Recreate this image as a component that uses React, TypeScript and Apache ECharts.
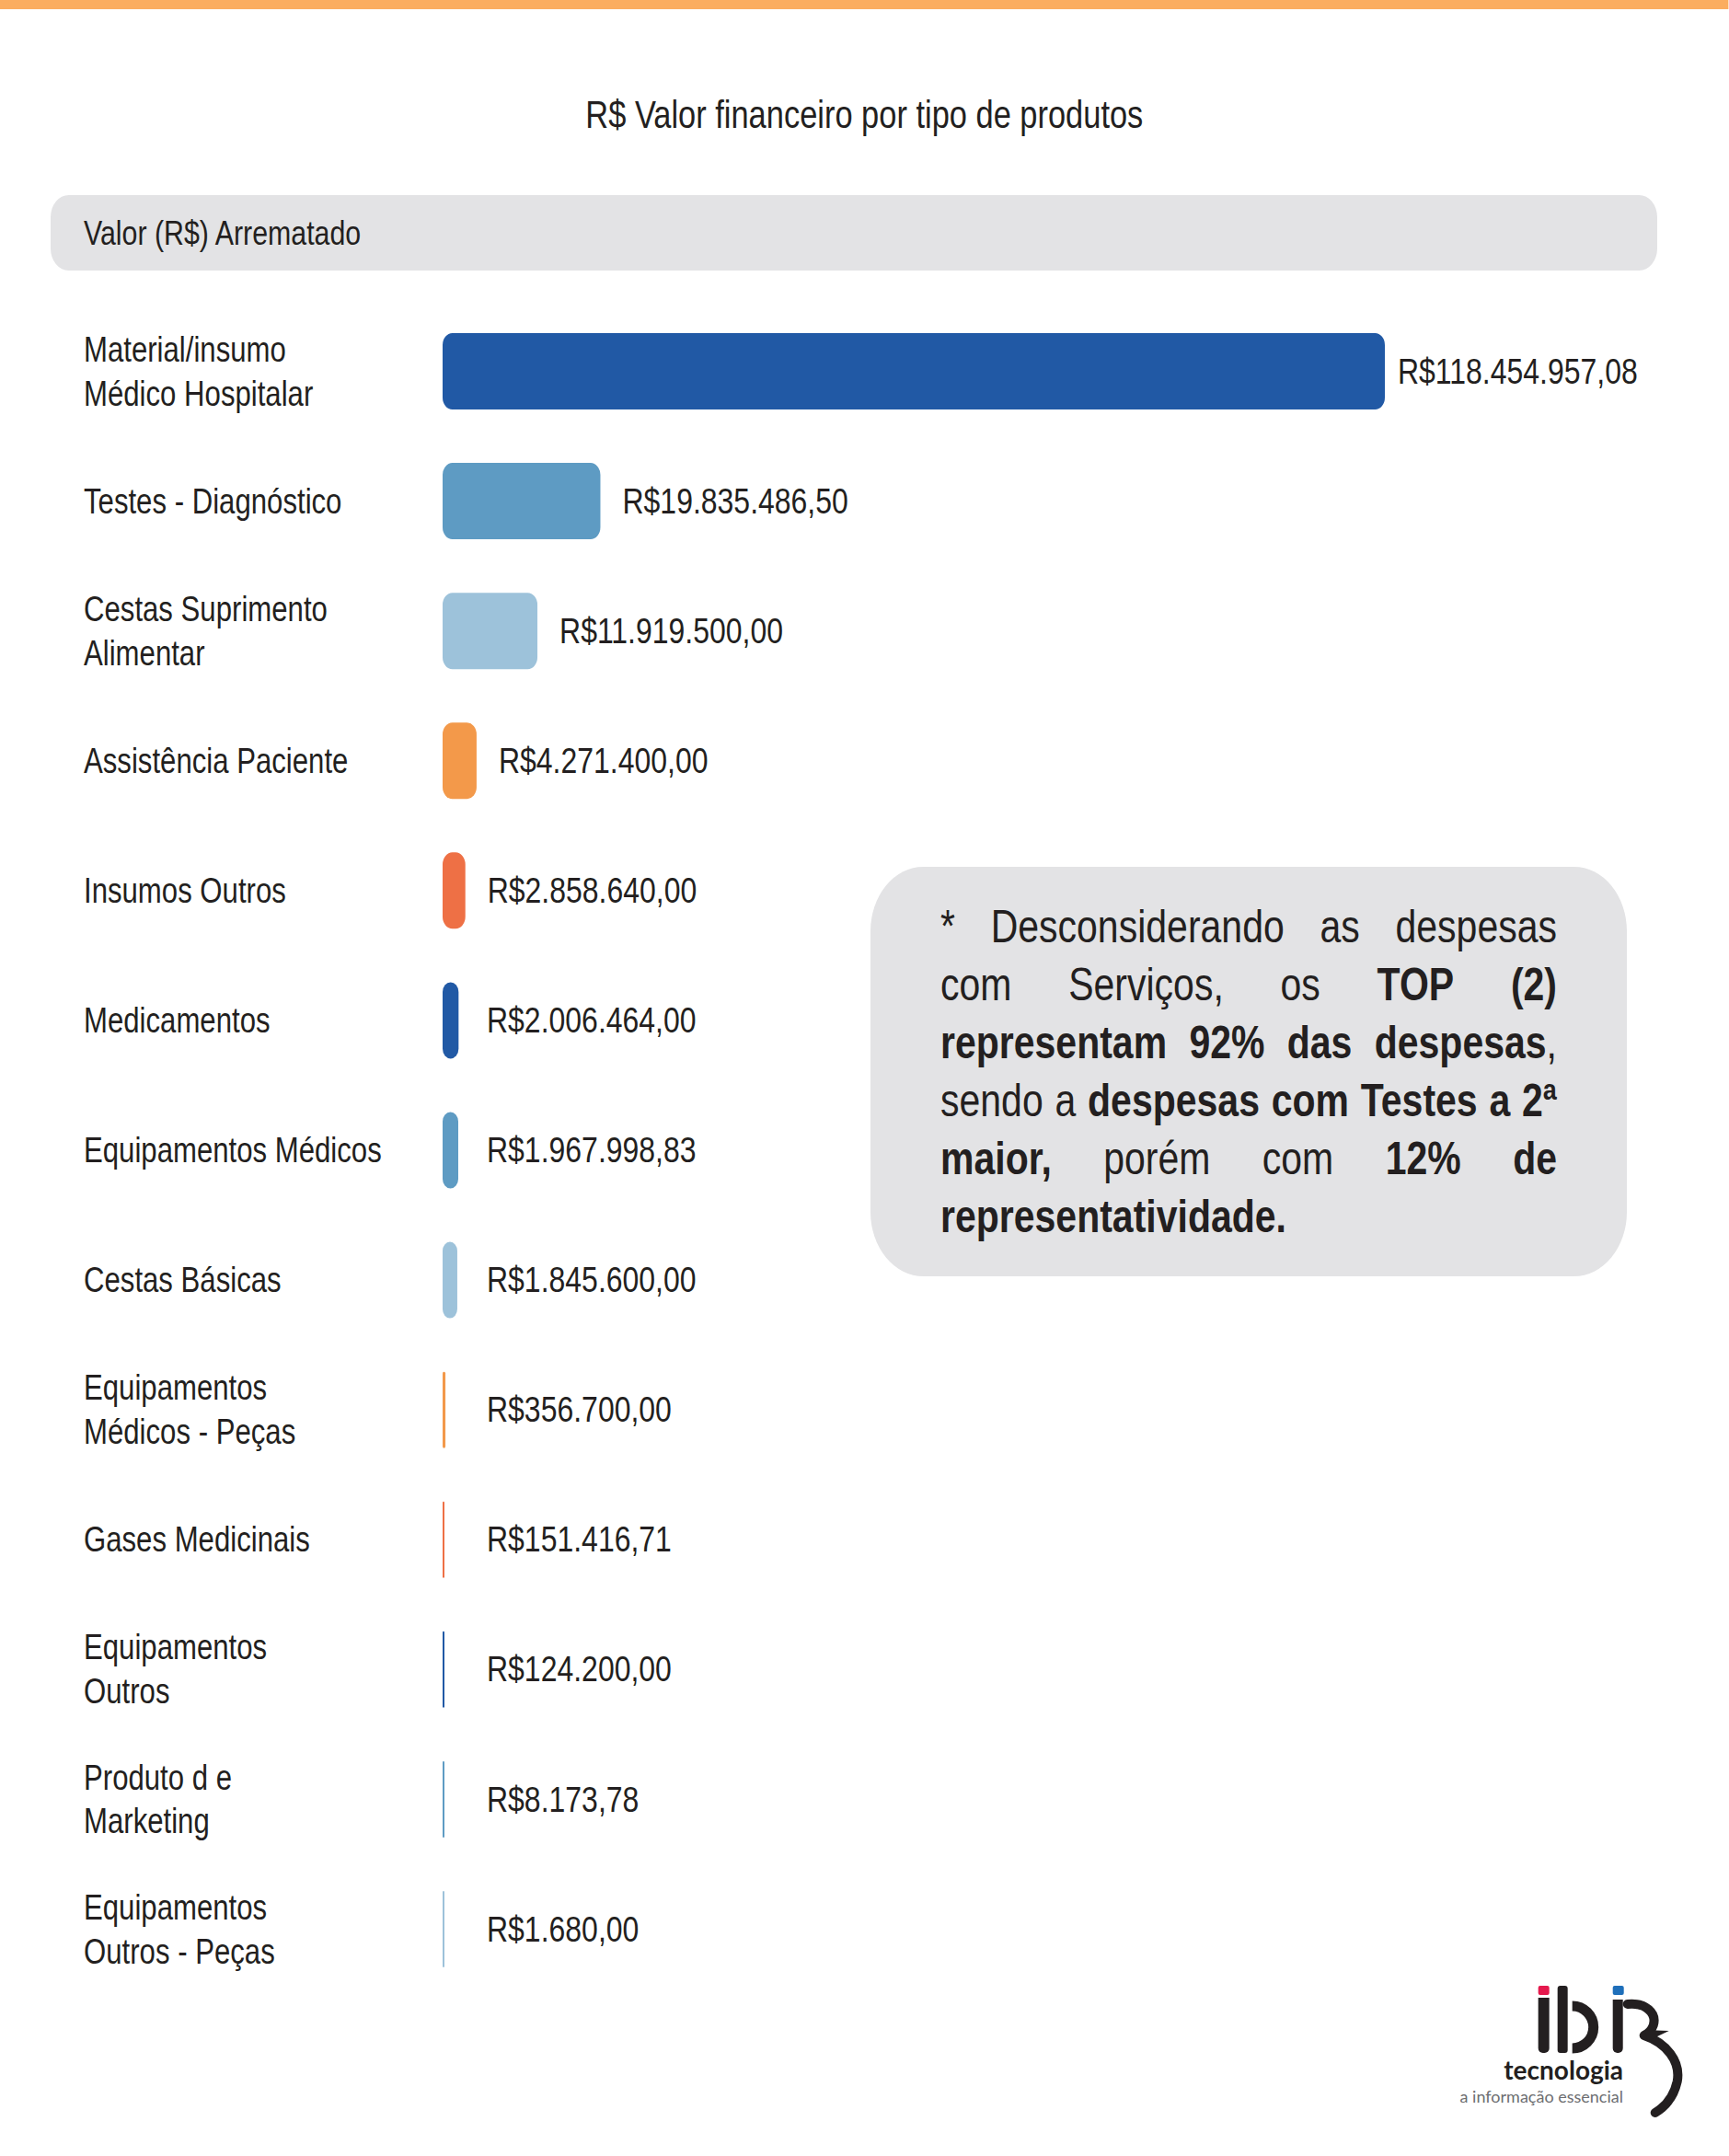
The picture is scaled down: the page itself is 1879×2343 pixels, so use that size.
import React, { useEffect, useRef } from 'react';
import * as echarts from 'echarts';

const chartTitle = 'R$ Valor financeiro por tipo de produtos';
const headerText = 'Valor (R$) Arrematado';

const categories = [
  'Material/insumo\nMédico Hospitalar',
  'Testes - Diagnóstico',
  'Cestas Suprimento\nAlimentar',
  'Assistência Paciente',
  'Insumos Outros',
  'Medicamentos',
  'Equipamentos Médicos',
  'Cestas Básicas',
  'Equipamentos\nMédicos - Peças',
  'Gases Medicinais',
  'Equipamentos\nOutros',
  'Produto d e\nMarketing',
  'Equipamentos\nOutros - Peças',
];

const values = [
  118454957.08, 19835486.5, 11919500.0, 4271400.0, 2858640.0, 2006464.0,
  1967998.83, 1845600.0, 356700.0, 151416.71, 124200.0, 8173.78, 1680.0,
];

const palette = ['#2159A5', '#5E9BC3', '#9DC2DA', '#F3994A', '#EE7045'];

// annotation: lines -> words -> segments [text, bold]
const noteLines: [string, boolean][][][] = [
  [[['*', false]], [['Desconsiderando', false]], [['as', false]], [['despesas', false]]],
  [[['com', false]], [['Serviços,', false]], [['os', false]], [['TOP', true]], [['(2)', true]]],
  [[['representam', true]], [['92%', true]], [['das', true]], [['despesas', true], [',', false]]],
  [[['sendo', false]], [['a', false]], [['despesas', true]], [['com', true]], [['Testes', true]], [['a', true]], [['2ª', true]]],
  [[['maior,', true]], [['porém', false]], [['com', false]], [['12%', true]], [['de', true]]],
  [[['representatividade.', true]]],
];

const logoWord = 'tecnologia';
const logoSlogan = 'a informação essencial';

// The reference uses a condensed sans; emulate it by compressing the whole chart horizontally.
const K = 0.82;
const PAGE_W = 1879;
const PAGE_H = 2343;
const CW = Math.round(PAGE_W / K);
const X = (px: number) => px / K;

const FONT = "'Liberation Sans', Arial, 'DejaVu Sans', sans-serif";
const INK = '#231F20';
const GRAY = '#E3E3E5';

echarts.graphic.registerShape(
  'ibiHook',
  echarts.graphic.extendPath(
    'M1768 2178 C1788 2176 1800 2188 1796 2201 C1794 2207 1790 2210 1786 2212 M1786 2212 C1810 2220 1826 2240 1822 2262 C1818 2280 1808 2290 1798 2296',
    {}
  )
);
echarts.graphic.registerShape(
  'ibiNotch',
  echarts.graphic.extendPath('M1786 2206 L1813 2207 L1790 2218 Z', {})
);

function brl(v: number): string {
  const [i, d] = v.toFixed(2).split('.');
  return 'R$' + i.replace(/\B(?=(\d{3})+(?!\d))/g, '.') + ',' + d;
}

function buildNote(): any[] {
  const canvas = document.createElement('canvas');
  const ctx = canvas.getContext('2d')!;
  const size = 50;
  const left = X(1022);
  const width = X(1692) - X(1022);
  const top = 1007;
  const step = 63;
  const fontOf = (b: boolean) => `${b ? 'bold' : 'normal'} ${size}px ${FONT}`;
  const measure = (t: string, b: boolean) => {
    ctx.font = fontOf(b);
    return ctx.measureText(t).width;
  };
  const els: any[] = [];
  noteLines.forEach((words, li) => {
    const wordW = words.map((w) => w.reduce((s, [t, b]) => s + measure(t, b), 0));
    const total = wordW.reduce((a, b) => a + b, 0);
    const last = li === noteLines.length - 1;
    const gap = last || words.length < 2 ? measure(' ', false) : (width - total) / (words.length - 1);
    let x = left;
    const y = top + li * step;
    words.forEach((w, wi) => {
      let sx = x;
      w.forEach(([t, b]) => {
        els.push({
          type: 'text',
          x: sx,
          y,
          silent: true,
          style: {
            text: t,
            font: fontOf(b),
            fill: INK,
            align: 'left',
            verticalAlign: 'middle',
          },
        });
        sx += measure(t, b);
      });
      x += wordW[wi] + gap;
    });
  });
  return els;
}

export default function App() {
  const ref = useRef<HTMLDivElement>(null);
  useEffect(() => {
    document.body.style.margin = '0';
    const chart = echarts.init(ref.current!, null, { renderer: 'svg' });

    // logo drawn in page pixels; the group undoes the horizontal compression
    const logo = {
      type: 'group',
      silent: true,
      scaleX: 1 / K,
      children: [
        { type: 'rect', shape: { x: 1671, y: 2158, width: 12, height: 10, r: 2 }, style: { fill: '#E5194D' } },
        { type: 'rect', shape: { x: 1671, y: 2171, width: 12, height: 60, r: [0, 0, 5, 5] }, style: { fill: INK } },
        { type: 'rect', shape: { x: 1692, y: 2158, width: 11, height: 73, r: 3 }, style: { fill: INK } },
        {
          type: 'arc',
          shape: { cx: 1708, cy: 2203, r: 23, startAngle: -Math.PI / 2, endAngle: Math.PI / 2, clockwise: true },
          style: { stroke: INK, lineWidth: 11, fill: 'none' },
        },
        { type: 'rect', shape: { x: 1752, y: 2158, width: 12, height: 10, r: 2 }, style: { fill: '#1E6FBA' } },
        { type: 'rect', shape: { x: 1752, y: 2173, width: 11, height: 58, r: [0, 0, 5, 5] }, style: { fill: INK } },
        { type: 'ibiHook', style: { fill: 'none', stroke: INK, lineWidth: 10, lineCap: 'round' } },
        { type: 'ibiNotch', style: { fill: INK } },
        {
          type: 'text',
          x: 1764,
          y: 2249,
          style: { text: logoWord, font: "bold 28px Lato, 'Open Sans', sans-serif", fill: INK, align: 'right', verticalAlign: 'middle' },
        },
        {
          type: 'text',
          x: 1764,
          y: 2278,
          style: { text: logoSlogan, font: "normal 18px Lato, 'Open Sans', sans-serif", fill: '#6D6E71', align: 'right', verticalAlign: 'middle' },
        },
      ],
    };

    const graphics: any[] = [
      { type: 'rect', silent: true, shape: { x: 0, y: 0, width: CW, height: 10 }, style: { fill: '#FBAD60' } },
      { type: 'rect', silent: true, z: -1, shape: { x: X(55), y: 212, width: X(1746), height: 82, r: 24 }, style: { fill: GRAY } },
      {
        type: 'text',
        x: X(91),
        y: 253,
        silent: true,
        style: { text: headerText, font: `normal 37px ${FONT}`, fill: INK, align: 'left', verticalAlign: 'middle' },
      },
      { type: 'rect', silent: true, z: -1, shape: { x: X(946), y: 942, width: X(822), height: 445, r: 70 }, style: { fill: GRAY } },
      ...buildNote(),
      logo,
    ];

    const labelSize = 38;
    const valueSize = 39;
    const gridLeft = X(481);

    const makeData = (dists?: number[]) =>
      values.map((v, i) => ({
        value: v,
        itemStyle: { color: palette[i % palette.length] },
        label: dists ? { distance: dists[i] } : undefined,
      }));

    chart.setOption({
      animation: false,
      backgroundColor: '#FFFFFF',
      title: {
        text: chartTitle,
        left: 'center',
        top: 98,
        textStyle: { fontFamily: FONT, fontSize: 42, fontWeight: 'normal', color: INK },
      },
      grid: { left: gridLeft, right: CW - X(1505), top: 333, bottom: 176, containLabel: false },
      xAxis: {
        type: 'value',
        min: 0,
        max: values[0],
        show: false,
      },
      yAxis: {
        type: 'category',
        data: categories,
        inverse: true,
        axisLine: { show: false },
        axisTick: { show: false },
        splitLine: { show: false },
        axisLabel: {
          align: 'left',
          margin: X(481 - 91),
          fontFamily: FONT,
          fontSize: labelSize,
          lineHeight: 48,
          color: INK,
        },
      },
      graphic: graphics,
      series: [
        {
          type: 'bar',
          data: makeData(),
          barWidth: 83,
          barMinHeight: 2 / K,
          silent: true,
          itemStyle: { borderRadius: 13 },
          label: {
            show: true,
            position: 'right',
            distance: X(16),
            formatter: (p: any) => brl(p.value),
            fontFamily: FONT,
            fontSize: valueSize,
            color: INK,
          },
        },
      ],
    });

    // value labels: right of the bar, but never left of the common label column
    const x0 = chart.convertToPixel({ xAxisIndex: 0 }, 0) as number;
    const minLabelX = x0 + X(48);
    const dists = values.map((v, i) => {
      const end = Math.max(chart.convertToPixel({ xAxisIndex: 0 }, v) as number, x0 + 2 / K);
      const gap = i === 0 ? X(14) : X(24);
      const want = Math.max(end + gap, minLabelX);
      return want - end;
    });
    chart.setOption({ series: [{ data: makeData(dists) }] });

    return () => chart.dispose();
  }, []);
  return (
    <div style={{ position: 'absolute', left: 0, top: 0, width: PAGE_W, height: PAGE_H, overflow: 'hidden' }}>
      <div
        ref={ref}
        style={{ width: CW, height: PAGE_H, transform: `scaleX(${K})`, transformOrigin: '0 0' }}
      />
    </div>
  );
}
